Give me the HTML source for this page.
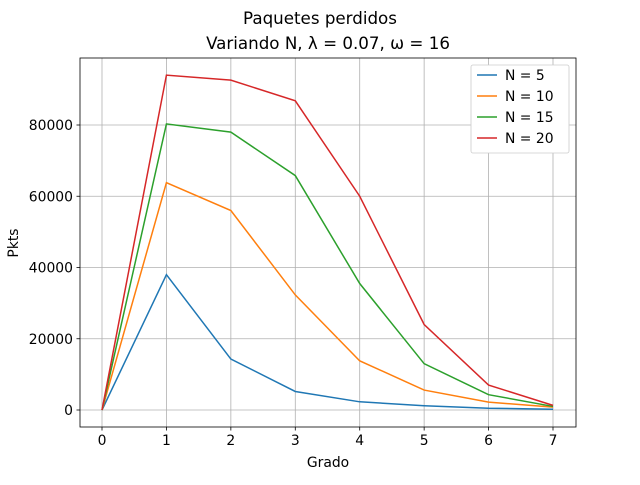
<!DOCTYPE html>
<html><head><meta charset="utf-8"><style>
body{margin:0;background:#fff;}
svg{font-family:"DejaVu Sans","Liberation Sans",sans-serif;}
</style></head><body>
<svg id="c" width="640" height="480"></svg>
<script>
const categories=[0,1,2,3,4,5,6,7];
const seriesNames=["N = 5","N = 10","N = 15","N = 20"];
const s5=[0,38000,14300,5200,2300,1200,500,200];
const s10=[0,63800,56000,32300,13800,5600,2200,800];
const s15=[0,80300,78000,65800,35500,13000,4300,1000];
const s20=[0,94000,92600,86800,60000,24000,7000,1300];
const yTicks=[0,20000,40000,60000,80000];
const colors=["#1f77b4","#ff7f0e","#2ca02c","#d62728"];
const series=[s5,s10,s15,s20];
const L=80,R=576,T=58,B=427;
const xs=v=>102+(v-0)*(553-102)/7;
const ys=v=>410-v*0.0035625;
const svg=document.getElementById('c');
const NS="http://www.w3.org/2000/svg";
function mk(tag,a,p){const e=document.createElementNS(NS,tag);for(const k in a)e.setAttribute(k,a[k]);(p||svg).appendChild(e);return e;}
categories.forEach(c=>{const g=mk('line',{x1:xs(c),x2:xs(c),y1:T,y2:B,stroke:'#b0b0b0','stroke-width':0.8});


mk('line',{x1:xs(c),x2:xs(c),y1:B,y2:B+3.5,stroke:'#000','stroke-width':0.8});
const l=mk('text',{x:xs(c),y:B+18,'text-anchor':'middle','font-size':13.9});l.textContent=c;

});
yTicks.forEach(v=>{const g=mk('line',{x1:L,x2:R,y1:ys(v),y2:ys(v),stroke:'#b0b0b0','stroke-width':0.8});


mk('line',{x1:L-3.5,x2:L,y1:ys(v),y2:ys(v),stroke:'#000','stroke-width':0.8});
const l=mk('text',{x:L-7,y:ys(v)+5,'text-anchor':'end','font-size':13.9});l.textContent=v;

});
series.forEach((s,i)=>{const p=mk('polyline',{points:s.map((v,j)=>xs(categories[j])+','+ys(v)).join(' '),fill:'none',stroke:colors[i],'stroke-width':1.5});

});
const fr=mk('rect',{x:L,y:T,width:R-L,height:B-T,fill:'none',stroke:'#000','stroke-width':0.8});


[[320,24,'Paquetes perdidos','title-line-1',16.7],[328,49,'Variando N, λ = 0.07, ω = 16','title-line-2',16.7],[328,467,'Grado','x-axis-title',13.9]].forEach(a=>{
const t=mk('text',{x:a[0],y:a[1],'text-anchor':'middle','font-size':a[4]});t.textContent=a[2];

});
const yt=mk('text',{x:18,y:243,'text-anchor':'middle','font-size':13.9,transform:'rotate(-90 18 243)'});yt.textContent='Pkts';


const lg=mk('g',{});


mk('rect',{x:471,y:65,width:98,height:88,rx:2,fill:'#fff',stroke:'#ccc','stroke-width':0.8},lg);
seriesNames.forEach((n,i)=>{const y=75+i*21;
mk('line',{x1:477,x2:497,y1:y,y2:y,stroke:colors[i],'stroke-width':1.5},lg);
const t=mk('text',{x:505,y:y+5,'font-size':13.9},lg);t.textContent=n;

});
</script>
</body></html>
